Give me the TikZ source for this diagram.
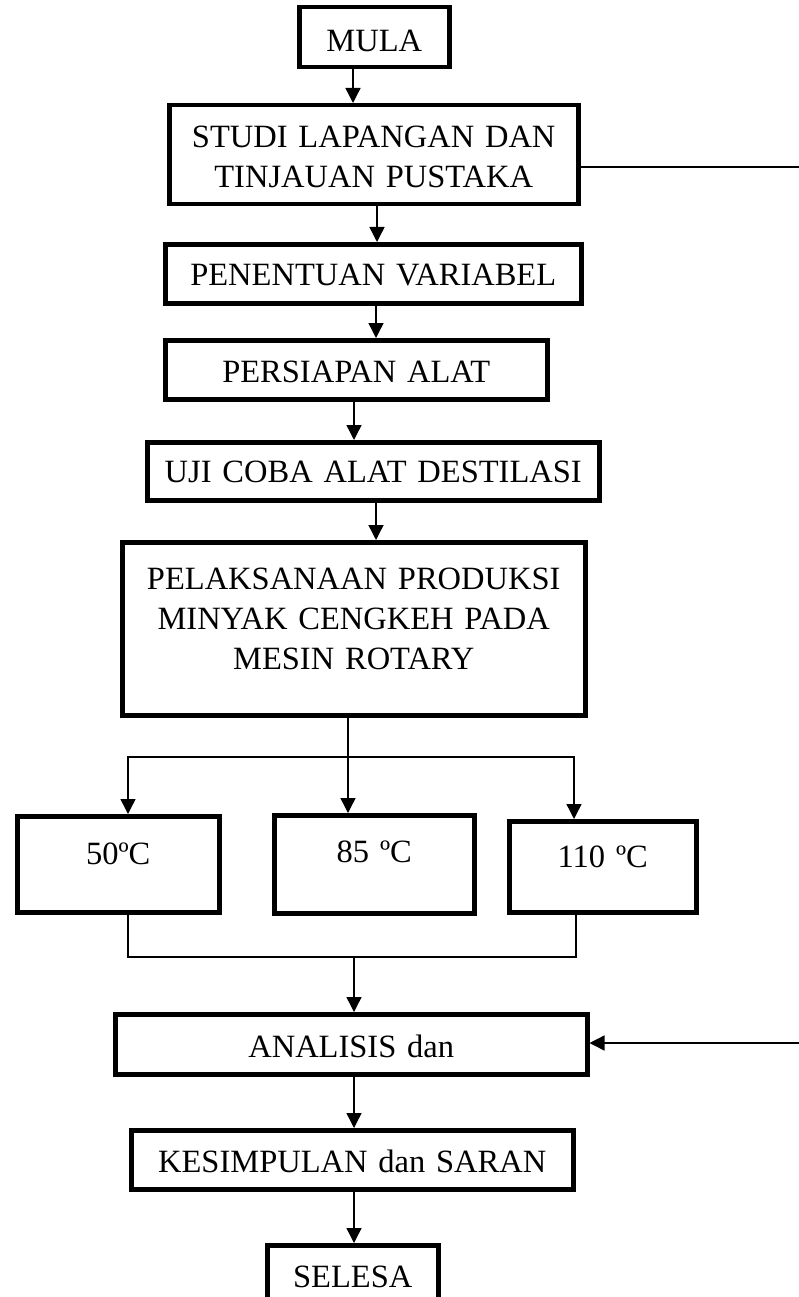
\documentclass[tikz,border=0pt]{standalone}
\usepackage{fontspec}
\setmainfont{Liberation Serif}
\usetikzlibrary{arrows.meta}
\tikzset{
  box/.style={draw, line width=4.5pt, inner sep=0pt, align=center, anchor=north west,
    font=\fontsize{32.5}{40}\selectfont},
  conn/.style={line width=1.4pt},
  arr/.style={conn, -{Triangle[width=15pt,length=15pt]}},
}
\begin{document}
\begin{tikzpicture}[x=1pt,y=-1pt]
\useasboundingbox (0,0) rectangle (799,1297);
\clip (0,0) rectangle (799,1297);
% boxes
\node[box, text width=150pt, text height=44.6pt, text depth=15.4pt] (mula) at (297,5) {MULA};
\node[box, text width=409pt, text height=42.6pt, text depth=56.4pt] (studi) at (167,103) {STUDI LAPANGAN DAN\\TINJAUAN PUSTAKA};
\node[box, text width=416pt, text height=41.6pt, text depth=17.4pt] (pen) at (163,242) {PENENTUAN VARIABEL};
\node[box, text width=382pt, text height=42.6pt, text depth=16.4pt] (pers) at (163,338) {PERSIAPAN ALAT};
\node[box, text width=452pt, text height=40.6pt, text depth=17.4pt] (uji) at (145,440) {UJI COBA ALAT DESTILASI};
\node[box, text width=463pt, text height=47.6pt, text depth=125.4pt] (pel) at (120,540) {PELAKSANAAN PRODUKSI\\MINYAK CENGKEH PADA\\MESIN ROTARY};
\node[box, text width=202pt, text height=48.6pt, text depth=47.4pt] (t50) at (15,814) {50ºC};
\node[box, text width=200pt, text height=47.6pt, text depth=50.4pt] (t85) at (272,813) {85 ºC};
\node[box, text width=187pt, text height=46.6pt, text depth=44.4pt] (t110) at (507,819) {110 ºC};
\node[box, text width=472pt, text height=43.6pt, text depth=16.4pt] (ana) at (113,1012) {ANALISIS dan};
\node[box, text width=442pt, text height=42.6pt, text depth=16.4pt] (kes) at (129,1128) {KESIMPULAN dan SARAN};
\node[box, text width=171pt, text height=42.6pt, text depth=17.4pt] (sel) at (265,1243) {SELESA};
% helper coordinates
\coordinate (r1) at (799,167);
\coordinate (r2) at (799,1043);
\coordinate (split) at (348,757);
\coordinate (merge) at (354,957);
% connectors
\draw[arr] (mula.south -| 353,0) -- (studi.north -| 353,0);
\draw[arr] (studi.south -| 377,0) -- (pen.north -| 377,0);
\draw[arr] (pen.south -| 376,0) -- (pers.north -| 376,0);
\draw[arr] (pers.south -| 354,0) -- (uji.north -| 354,0);
\draw[arr] (uji.south -| 376,0) -- (pel.north -| 376,0);
\draw[conn] (studi.east |- r1) -- (r1);
\draw[conn] (pel.south -| split) -- (split);
\draw[arr] (split) -- (t85.north -| split);
\draw[arr] (split) -| (t50.north -| 128,0);
\draw[arr] (split) -| (t110.north -| 574,0);
\draw[conn] (t50.south -| 128,0) |- (merge);
\draw[conn] (t110.south -| 576,0) |- (merge);
\draw[arr] (merge) -- (ana.north -| merge);
\draw[arr] (r2) -- (ana.east |- r2);
\draw[arr] (ana.south -| 354,0) -- (kes.north -| 354,0);
\draw[arr] (kes.south -| 354,0) -- (sel.north -| 354,0);
\end{tikzpicture}
\end{document}
